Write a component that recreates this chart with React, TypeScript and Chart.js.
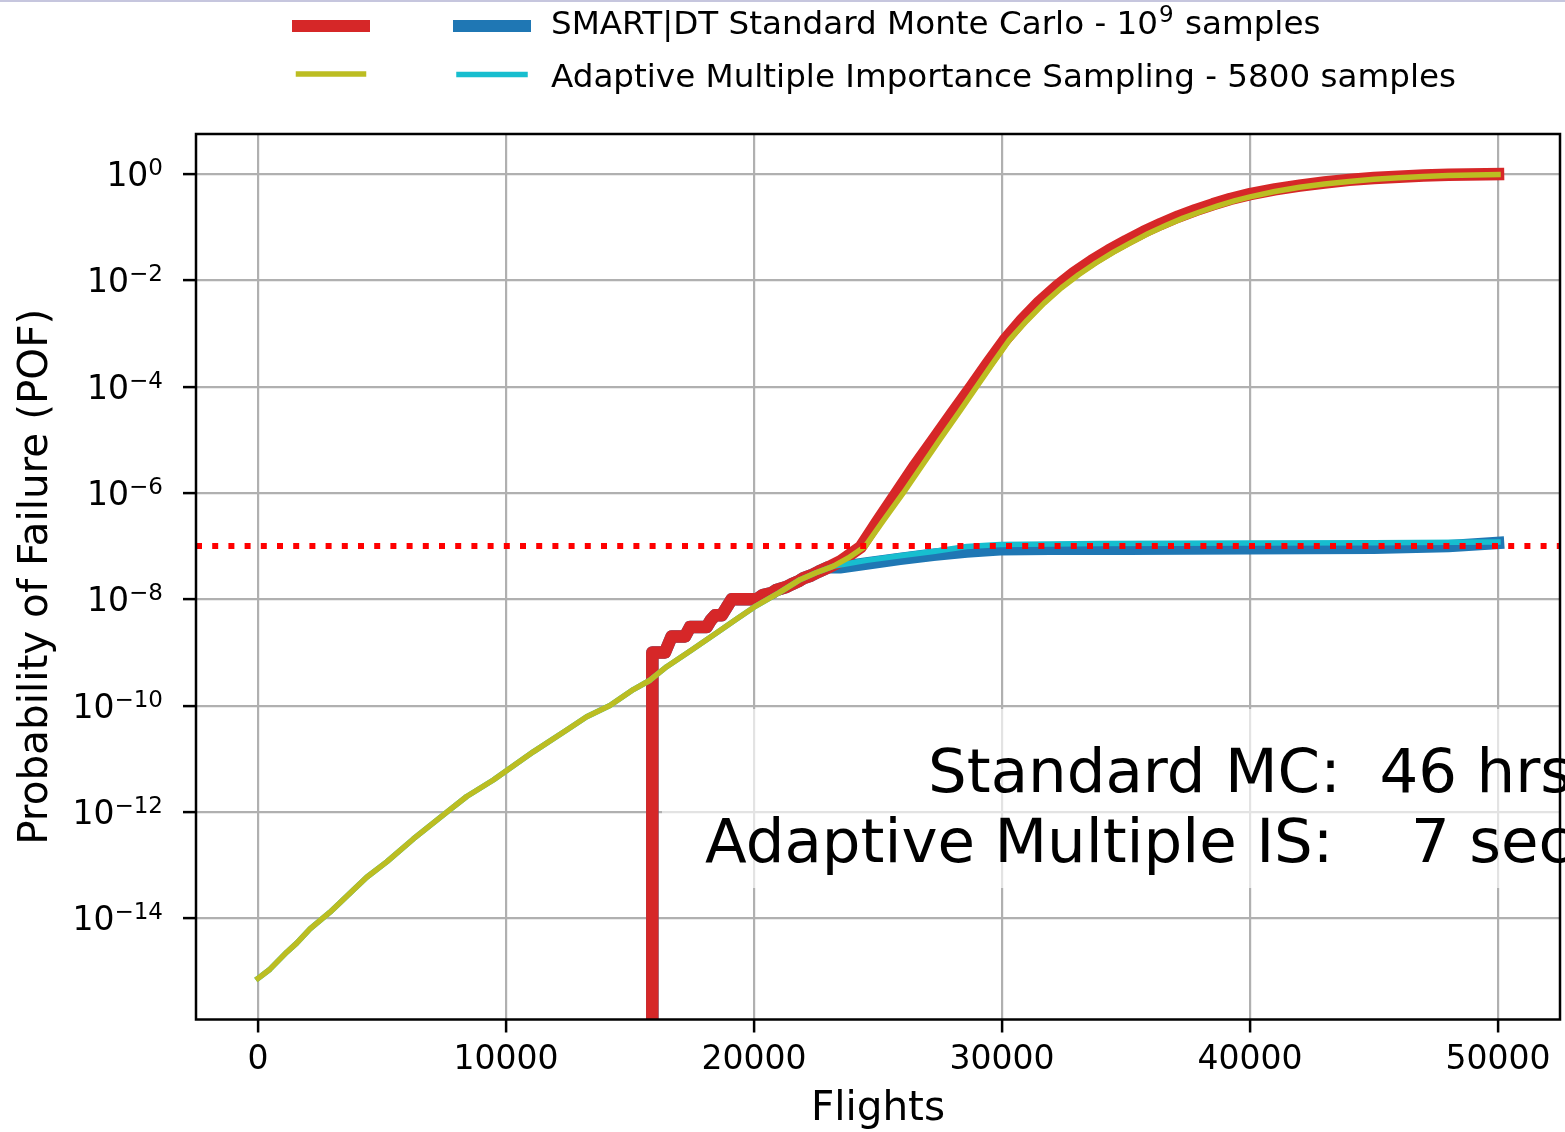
import React, { useEffect, useRef } from 'react';
import { Chart, registerables } from 'chart.js';

Chart.register(...registerables);

const FONT = "'DejaVu Sans', 'Liberation Sans', sans-serif";

// ---------- data ----------
// AMIS total POF (yellow)
const amisTotalFlights = [0, 484, 1157, 1560, 2097, 2903, 3843, 4383, 5190, 6263, 7742, 8415, 9488, 11100, 12448, 13253, 14190, 15133, 15806, 16480, 17500, 18500, 19300, 20000, 21000, 21855, 22500, 23185, 23800, 24475, 25200, 26020, 26800, 27500, 28300, 28980, 29600, 30300, 31000, 31700, 32400, 33100, 33800, 34500, 35200, 35900, 36600, 37300, 38000, 38700, 39400, 40000, 41000, 42000, 43000, 44000, 45000, 46000, 47000, 48000, 49000, 50000];
const amisTotalPof = [7.4e-16, 1.1e-15, 2.3e-15, 3.4e-15, 6.3e-15, 1.3e-14, 3.4e-14, 5.9e-14, 1.15e-13, 3.1e-13, 1.1e-12, 1.95e-12, 3.98e-12, 1.35e-11, 3.47e-11, 6.17e-11, 1.0e-10, 2.0e-10, 3.0e-10, 5.4e-10, 1.12e-9, 2.34e-9, 4.27e-9, 7.1e-9, 1.32e-8, 2.34e-8, 3.16e-8, 4.17e-8, 6.0e-8, 9.8e-8, 2.95e-7, 1.0e-6, 3.39e-6, 1.02e-5, 3.47e-5, 1.0e-4, 2.63e-4, 7.59e-4, 1.74e-3, 3.72e-3, 7.24e-3, 1.29e-2, 2.14e-2, 3.39e-2, 5.13e-2, 7.59e-2, 0.107, 0.148, 0.195, 0.251, 0.316, 0.372, 0.468, 0.562, 0.646, 0.724, 0.794, 0.851, 0.902, 0.933, 0.959, 0.977];

// AMIS component POF (cyan)
const amisCompFlights = [0, 484, 1157, 1560, 2097, 2903, 3843, 4383, 5190, 6263, 7742, 8415, 9488, 11100, 12448, 13253, 14190, 15133, 15806, 16480, 17500, 18500, 19300, 20000, 21000, 21855, 22500, 23185, 23800, 24540, 25890, 27230, 28580, 29920, 33950, 40000, 45000, 50000];
const amisCompPof = [7.4e-16, 1.1e-15, 2.3e-15, 3.4e-15, 6.3e-15, 1.3e-14, 3.4e-14, 5.9e-14, 1.15e-13, 3.1e-13, 1.1e-12, 1.95e-12, 3.98e-12, 1.35e-11, 3.47e-11, 6.17e-11, 1.0e-10, 2.0e-10, 3.0e-10, 5.4e-10, 1.12e-9, 2.34e-9, 4.27e-9, 7.1e-9, 1.32e-8, 2.34e-8, 3.16e-8, 4.17e-8, 4.7e-8, 5.4e-8, 6.6e-8, 7.9e-8, 9.8e-8, 1.07e-7, 1.12e-7, 1.15e-7, 1.16e-7, 1.2e-7];

// Standard MC total POF (red) - 1e-30 stands for zero failures
const mcTotalFlights = [15900, 15900, 16410, 16680, 17220, 17420, 18090, 18250, 18430, 18700, 19100, 20110, 20350, 20700, 20900, 21300, 21500, 21800, 22000, 22300, 22600, 23000, 23500, 24000, 24300, 25000, 25750, 26500, 27300, 28000, 28770, 29400, 30100, 30800, 31500, 32200, 32900, 33600, 34300, 35000, 35700, 36400, 37100, 37800, 38500, 39200, 40000, 41000, 42000, 43000, 44000, 45000, 46000, 47000, 48000, 50000];
const mcTotalPof = [1e-30, 1e-9, 1e-9, 2e-9, 2e-9, 3e-9, 3e-9, 4e-9, 5e-9, 5e-9, 1e-8, 1e-8, 1.2e-8, 1.3e-8, 1.5e-8, 1.7e-8, 1.9e-8, 2.2e-8, 2.5e-8, 2.8e-8, 3.3e-8, 4.0e-8, 5.2e-8, 7.6e-8, 9.55e-8, 3.02e-7, 1.0e-6, 3.31e-6, 1.1e-5, 3.16e-5, 1.0e-4, 2.63e-4, 7.41e-4, 1.78e-3, 3.89e-3, 7.59e-3, 1.38e-2, 2.29e-2, 3.63e-2, 5.5e-2, 8.13e-2, 0.115, 0.158, 0.209, 0.269, 0.339, 0.417, 0.513, 0.603, 0.692, 0.776, 0.841, 0.891, 0.933, 0.966, 1.0];

// Standard MC component POF (blue)
const mcCompFlights = [15900, 15900, 16410, 16680, 17220, 17420, 18090, 18250, 18430, 18700, 19100, 20110, 20350, 20700, 20900, 21300, 21500, 21800, 22000, 22300, 22600, 23000, 23470, 24540, 25890, 27230, 28580, 29920, 31940, 35000, 40000, 45000, 48000, 50000];
const mcCompPof = [1e-30, 1e-9, 1e-9, 2e-9, 2e-9, 3e-9, 3e-9, 4e-9, 5e-9, 5e-9, 1e-8, 1e-8, 1.2e-8, 1.3e-8, 1.5e-8, 1.7e-8, 1.9e-8, 2.2e-8, 2.5e-8, 2.8e-8, 3.3e-8, 4.0e-8, 4.0e-8, 4.7e-8, 5.75e-8, 6.9e-8, 7.9e-8, 8.7e-8, 8.9e-8, 8.9e-8, 9.1e-8, 9.3e-8, 1.0e-7, 1.15e-7];

// target POF threshold (dotted)
const thresholdFlights = [-2500, 52500];
const thresholdPof = [1e-7, 1e-7];

const xTickValues = [0, 10000, 20000, 30000, 40000, 50000];
const yTickValues = [1, 1e-2, 1e-4, 1e-6, 1e-8, 1e-10, 1e-12, 1e-14];
const yTickBase = '10';
const yTickExponents = ['0', '−2', '−4', '−6', '−8', '−10', '−12', '−14'];

const xTitle = 'Flights';
const yTitle = 'Probability of Failure (POF)';
const legendMcParts = ['SMART|DT Standard Monte Carlo - 10', '9', ' samples'];
const legendAmis = 'Adaptive Multiple Importance Sampling - 5800 samples';
const timingLines = ['Standard MC:  46 hrs', 'Adaptive Multiple IS:    7 sec'];

const RED = '#d62728';
const BLUE = '#1f77b4';
const YELLOW = '#bcbd22';
const CYAN = '#17becf';

const pts = (xs: number[], ys: number[]) => xs.map((x, i) => ({ x, y: ys[i] }));

const legendPlugin = {
  id: 'pofLegend',
  afterDraw(chart: any) {
    const ctx = chart.ctx as CanvasRenderingContext2D;
    ctx.save();
    ctx.lineCap = 'square';
    const seg = (x1: number, x2: number, y: number, color: string, w: number) => {
      ctx.strokeStyle = color;
      ctx.lineWidth = w;
      ctx.beginPath();
      ctx.moveTo(x1, y);
      ctx.lineTo(x2, y);
      ctx.stroke();
    };
    seg(298, 364, 26, RED, 12);
    seg(459, 525, 26, BLUE, 12);
    seg(298.5, 363.5, 74, YELLOW, 5.5);
    seg(459, 525, 74.5, CYAN, 5.5);
    ctx.fillStyle = '#000';
    ctx.textAlign = 'left';
    ctx.textBaseline = 'alphabetic';
    ctx.font = `32.6px ${FONT}`;
    let x = 551;
    ctx.fillText(legendMcParts[0], x, 34);
    x += ctx.measureText(legendMcParts[0]).width + 1;
    ctx.font = `23px ${FONT}`;
    ctx.fillText(legendMcParts[1], x, 22);
    x += ctx.measureText(legendMcParts[1]).width + 1;
    ctx.font = `32.6px ${FONT}`;
    ctx.fillText(legendMcParts[2], x, 34);
    ctx.fillText(legendAmis, 551, 87);
    ctx.restore();
  },
};

const yLabelPlugin = {
  id: 'yTickLabels',
  afterDraw(chart: any) {
    const ctx = chart.ctx as CanvasRenderingContext2D;
    const y = chart.scales.y;
    ctx.save();
    ctx.fillStyle = '#000';
    ctx.textAlign = 'left';
    ctx.textBaseline = 'alphabetic';
    const right = 163;
    yTickValues.forEach((v, i) => {
      const py = y.getPixelForValue(v);
      ctx.font = `33px ${FONT}`;
      const bw = ctx.measureText(yTickBase).width;
      ctx.font = `23px ${FONT}`;
      const sw = ctx.measureText(yTickExponents[i]).width;
      const x0 = right - sw - bw;
      ctx.font = `33px ${FONT}`;
      ctx.fillText(yTickBase, x0, py + 12);
      ctx.font = `23px ${FONT}`;
      ctx.fillText(yTickExponents[i], x0 + bw, py + 12 - 11);
    });
    ctx.restore();
  },
};

const overlayPlugin = {
  id: 'overlayBox',
  afterDatasetsDraw(chart: any) {
    const ctx = chart.ctx as CanvasRenderingContext2D;
    const a = chart.chartArea;
    ctx.save();
    // timing annotation box
    ctx.fillStyle = 'rgba(255,255,255,0.65)';
    ctx.fillRect(662, 709, 1565 - 662, 888 - 709);
    ctx.fillStyle = '#000';
    ctx.font = `61px ${FONT}`;
    ctx.textAlign = 'right';
    ctx.textBaseline = 'alphabetic';
    ctx.fillText(timingLines[0], 1572, 792);
    ctx.fillText(timingLines[1], 1572, 862);
    // axes frame
    ctx.strokeStyle = '#000';
    ctx.lineWidth = 2.5;
    ctx.strokeRect(a.left, a.top, a.right - a.left, a.bottom - a.top);
    ctx.restore();
  },
};

export default function App() {
  const canvasRef = useRef<HTMLCanvasElement | null>(null);

  useEffect(() => {
    const canvas = canvasRef.current;
    if (!canvas) return;
    const gridOpts = {
      color: '#b0b0b0',
      lineWidth: 2.2,
      tickColor: '#000',
      tickLength: 13,
      tickWidth: 2.5,
      drawTicks: true,
    };
    const lineDs = (label: string, xs: number[], ys: number[], color: string, width: number, order: number) => ({
      label,
      data: pts(xs, ys),
      borderColor: color,
      borderWidth: width,
      borderCapStyle: 'square',
      borderJoinStyle: 'round',
      pointRadius: 0,
      clip: 0,
      order,
    });
    const chart = new Chart(canvas, {
      type: 'line',
      data: {
        datasets: [
          {
            label: 'threshold',
            data: pts(thresholdFlights, thresholdPof),
            borderColor: '#ff0000',
            borderWidth: 6,
            borderDash: [6, 10.2],
            borderCapStyle: 'butt',
            pointRadius: 0,
            clip: 0,
            order: 0,
          },
          lineDs('AMIS total', amisTotalFlights, amisTotalPof, YELLOW, 5.5, 1),
          lineDs(legendAmis, amisCompFlights, amisCompPof, CYAN, 5.5, 2),
          lineDs('MC total', mcTotalFlights, mcTotalPof, RED, 12.5, 3),
          lineDs(legendMcParts.join(''), mcCompFlights, mcCompPof, BLUE, 12.5, 4),
        ],
      },
      options: {
        animation: false,
        responsive: false,
        devicePixelRatio: 1,
        layout: { padding: { top: 134, right: 5, left: 0, bottom: 0 } },
        elements: { line: { tension: 0 }, point: { radius: 0 } },
        plugins: {
          legend: { display: false },
          tooltip: { enabled: false },
        },
        scales: {
          x: {
            type: 'linear',
            min: -2500,
            max: 52500,
            afterBuildTicks: (s: any) => {
              s.ticks = xTickValues.map((v) => ({ value: v }));
            },
            afterFit: (s: any) => {
              s.height = 112.5;
            },
            ticks: {
              autoSkip: false,
              maxRotation: 0,
              padding: 8,
              color: '#000',
              font: { family: FONT, size: 33 },
              callback: (v: any) => String(v),
            },
            grid: gridOpts,
            border: { display: false },
            title: {
              display: true,
              text: xTitle,
              color: '#000',
              font: { family: FONT, size: 40.5 },
              padding: { top: 0, bottom: -2 },
            },
          },
          y: {
            type: 'logarithmic',
            min: 1.245e-16,
            max: 5.657,
            afterBuildTicks: (s: any) => {
              s.ticks = yTickValues.map((v) => ({ value: v }));
            },
            afterFit: (s: any) => {
              s.width = 196;
            },
            ticks: {
              display: false,
              autoSkip: false,
            },
            grid: gridOpts,
            border: { display: false },
            title: {
              display: true,
              text: yTitle,
              color: '#000',
              font: { family: FONT, size: 40.5 },
              padding: { top: 12, bottom: 0 },
            },
          },
        },
      },
      plugins: [overlayPlugin, yLabelPlugin, legendPlugin],
    } as any);
    return () => chart.destroy();
  }, []);

  return (
    <div style={{ position: 'absolute', left: 0, top: 0, width: 1565, height: 1132, background: '#fff', overflow: 'hidden' }}>
      <div style={{ position: 'absolute', left: 0, top: 0, width: 1565, height: 2, background: '#c6c6de' }} />
      <canvas ref={canvasRef} width={1565} height={1132} style={{ display: 'block', width: 1565, height: 1132 }} />
    </div>
  );
}
